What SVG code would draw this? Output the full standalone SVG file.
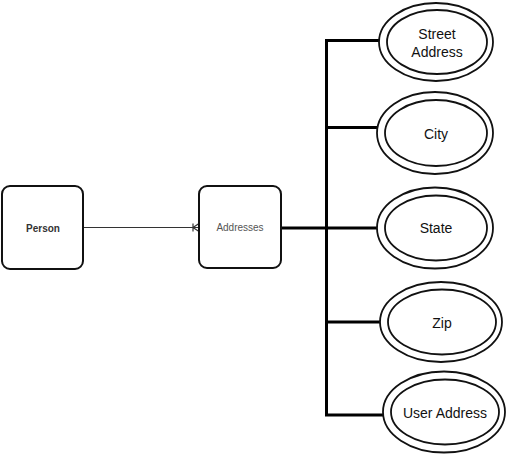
<svg xmlns="http://www.w3.org/2000/svg" width="508" height="455" viewBox="0 0 508 455">
<style>
.box{fill:#fff;stroke:#111;stroke-width:2}
.ell{fill:#fff;stroke:#111;stroke-width:1.8}
.conn{fill:none;stroke:#000;stroke-width:3}
.rel{fill:none;stroke:#333;stroke-width:1.2}
.t{font-family:"Liberation Sans",Arial,sans-serif;font-size:14px;fill:#111;text-anchor:middle;dominant-baseline:central}
.st{font-family:"Liberation Sans",Arial,sans-serif;font-size:10px;text-anchor:middle;dominant-baseline:central}
</style>
<rect width="508" height="455" fill="#fff"/>
<g id="connectors">
<path class="rel" d="M84 227.5 H199"/>
<path class="rel" d="M193 223.5 V231.5 M193 227.5 L199 223.5 M193 227.5 L199 231.5"/>
<path class="conn" d="M281 228 H326.5"/>
<path class="conn" d="M326.5 40 V415"/>
<path class="conn" d="M325 40.5 H379"/>
<path class="conn" d="M325 127.5 H378"/>
<path class="conn" d="M326.5 228 H378"/>
<path class="conn" d="M326.5 322 H381"/>
<path class="conn" d="M325 415 H384"/>
</g>
<g id="person">
<rect class="box" x="2" y="186" width="81" height="83" rx="8"/>
<text class="st" x="43" y="228" font-weight="bold" fill="#333">Person</text>
</g>
<g id="addresses">
<rect class="box" x="199" y="186" width="82" height="82" rx="8"/>
<text class="st" x="240" y="227" fill="#555">Addresses</text>
</g>
<g id="street-address">
<ellipse class="ell" cx="436" cy="42" rx="57" ry="39"/>
<ellipse class="ell" cx="437" cy="42" rx="50" ry="32"/>
<text class="t" x="437" y="34">Street</text>
<text class="t" x="437" y="52">Address</text>
</g>
<g id="city">
<ellipse class="ell" cx="435" cy="133" rx="58" ry="41"/>
<ellipse class="ell" cx="436" cy="133" rx="51" ry="33"/>
<text class="t" x="436" y="134">City</text>
</g>
<g id="state">
<ellipse class="ell" cx="435" cy="228" rx="58" ry="40.5"/>
<ellipse class="ell" cx="436" cy="228" rx="51" ry="32.5"/>
<text class="t" x="436" y="228">State</text>
</g>
<g id="zip">
<ellipse class="ell" cx="441" cy="322" rx="61" ry="40"/>
<ellipse class="ell" cx="442" cy="322" rx="54" ry="32.5"/>
<text class="t" x="442" y="323">Zip</text>
</g>
<g id="user-address">
<ellipse class="ell" cx="444" cy="412" rx="61" ry="40.5"/>
<ellipse class="ell" cx="445" cy="412" rx="54" ry="32.5"/>
<text class="t" x="445" y="413">User Address</text>
</g>
</svg>
